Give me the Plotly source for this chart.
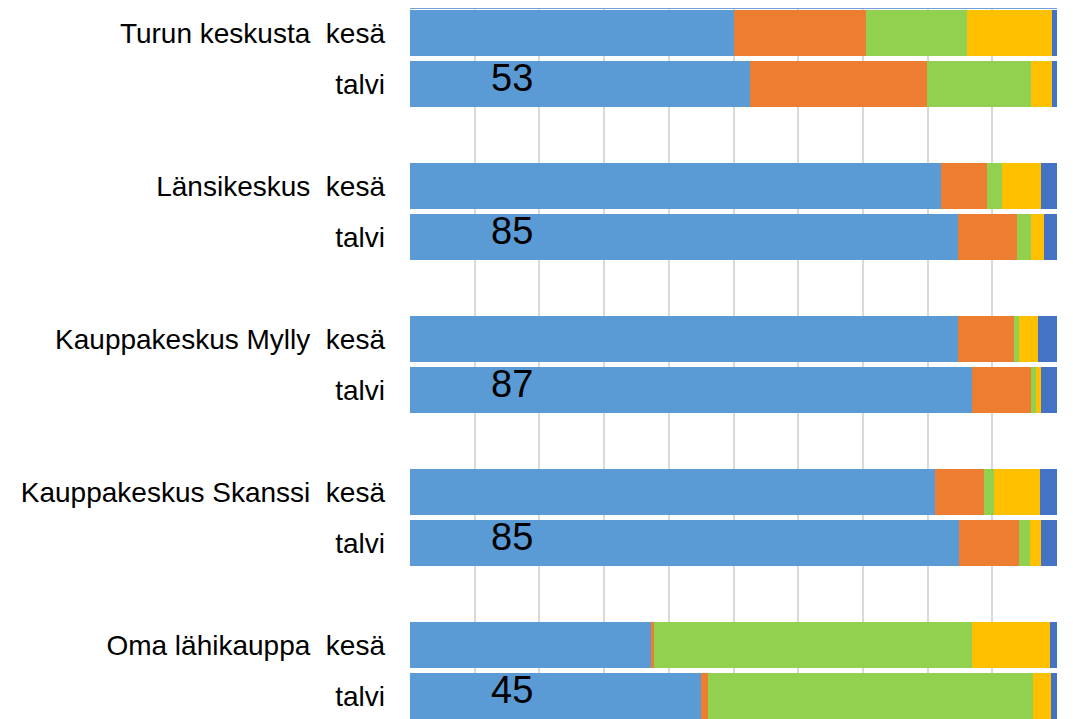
import plotly.graph_objects as go

groups = ["Turun keskusta", "Länsikeskus", "Kauppakeskus Mylly", "Kauppakeskus Skanssi", "Oma lähikauppa"]
seasons = ["kesä", "talvi"]

series_names = ["Henkilöauto", "Joukkoliikenne", "Kävellen", "Polkupyörä", "Muu"]
series_colors = ["#5B9BD5", "#ED7D31", "#92D050", "#FFC000", "#4472C4"]

# rows: group x season (kesä, talvi)
auto = [50.0, 52.6, 82.1, 84.7, 84.7, 86.9, 81.2, 84.8, 37.4, 45.0]
joukko = [20.5, 27.3, 7.1, 9.1, 8.7, 9.1, 7.5, 9.4, 0.3, 1.0]
kavely = [15.6, 16.1, 2.3, 2.2, 0.8, 0.7, 1.5, 1.6, 49.2, 50.3]
pyora = [13.1, 3.2, 6.1, 2.0, 2.9, 0.8, 7.1, 1.8, 12.0, 2.8]
muu = [0.8, 0.8, 2.4, 2.0, 2.9, 2.5, 2.7, 2.4, 1.1, 0.9]
series_values = [auto, joukko, kavely, pyora, muu]

# y positions: each group takes 3 rows (kesä, talvi, blank)
ypos = []
ticktext = []
for gi, g in enumerate(groups):
    for si, s in enumerate(seasons):
        ypos.append(3 * gi + si)
        ticktext.append((g + "\u00a0\u00a0" + s) if si == 0 else s)

fig = go.Figure()
for name, color, vals in zip(series_names, series_colors, series_values):
    fig.add_trace(go.Bar(
        x=vals, y=ypos, orientation="h", name=name,
        marker=dict(color=color, line=dict(width=0)),
        width=0.9, hoverinfo="x+name",
    ))

annotations = []
for i, (y, v) in enumerate(zip(ypos, auto)):
    if i % 2 == 1:
        annotations.append(dict(
            x=15.7, y=y, xref="x", yref="y", text=f"{v:.0f}",
            showarrow=False, xanchor="center", yanchor="middle",
            yshift=6,
            font=dict(family="Liberation Sans, Arial, sans-serif", size=38, color="#000000"),
        ))

fig.update_layout(
    barmode="stack",
    width=1073, height=719,
    margin=dict(l=402, r=24, t=1, b=0, autoexpand=False),
    plot_bgcolor="white", paper_bgcolor="white",
    showlegend=False,
    bargap=0,
    annotations=annotations,
    font=dict(family="Liberation Sans, Arial, sans-serif", color="#000000"),
)
fig.update_xaxes(
    range=[0, 100], side="top", automargin=False,
    showgrid=True, gridcolor="#D9D9D9", gridwidth=2,
    dtick=10, tick0=0,
    showline=True, linecolor="#6FA0D8", linewidth=2,
    ticks="outside", ticklen=6, tickcolor="#6FA0D8", tickwidth=2,
    showticklabels=False, zeroline=False,
)
fig.update_yaxes(
    range=[13.61, -0.47], automargin=False,
    tickmode="array", tickvals=ypos, ticktext=ticktext,
    showgrid=False, zeroline=False, showline=False,
    ticks="", ticklabelstandoff=24,
    tickfont=dict(family="Liberation Sans, Arial, sans-serif", size=28, color="#000000"),
)

fig.write_html("out.html")
